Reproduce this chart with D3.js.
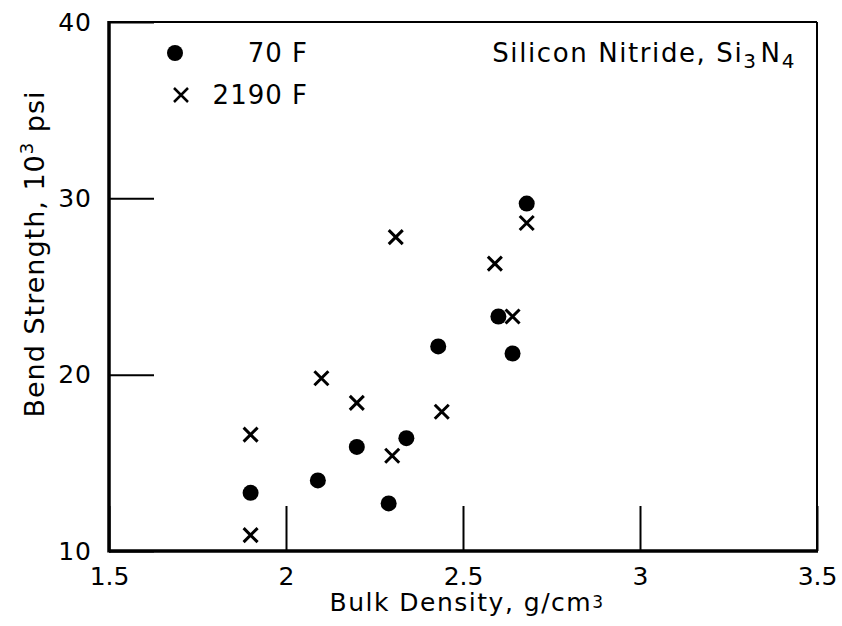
<!DOCTYPE html>
<html>
<head>
<meta charset="utf-8">
<script src="https://cdn.jsdelivr.net/npm/d3@7"></script>
<style>
  body { margin: 0; background: #fff; }
  text { font-family: "DejaVu Sans", Verdana, sans-serif; fill: #000; }
</style>
</head>
<body>
<svg id="chart" width="842" height="626"></svg>
<script>
// 70 F series (circles)
const density70 = [1.90, 2.09, 2.20, 2.29, 2.34, 2.43, 2.60, 2.64, 2.68];
const strength70 = [13.3, 14.0, 15.9, 12.7, 16.4, 21.6, 23.3, 21.2, 29.7];
// 2190 F series (crosses)
const density2190 = [1.90, 1.90, 2.10, 2.20, 2.30, 2.31, 2.44, 2.59, 2.64, 2.68];
const strength2190 = [16.6, 10.9, 19.8, 18.4, 15.4, 27.8, 17.9, 26.3, 23.3, 28.6];

const xTicks = [1.5, 2, 2.5, 3, 3.5];
const xTickLabels = ["1.5", "2", "2.5", "3", "3.5"];
const yTicks = [10, 20, 30, 40];
const yTickLabels = ["10", "20", "30", "40"];

const margin = {left: 109, right: 25, top: 22, bottom: 75};
const width = 842, height = 626;
const font = "DejaVu Sans, Verdana, sans-serif";

const svg = d3.select("#chart");

const x = d3.scaleLinear()
    .domain([1.5, 3.5])
    .range([margin.left, width - margin.right]);

const y = d3.scaleLinear()
    .domain([10, 40])
    .range([height - margin.bottom, margin.top]);

// inner ticks (drawn without domain line)
const xAxis = d3.axisBottom(x)
    .tickValues(xTicks)
    .tickFormat((d, i) => xTickLabels[i])
    .tickSizeInner(-45)
    .tickSizeOuter(0)
    .tickPadding(16);

const yAxis = d3.axisLeft(y)
    .tickValues(yTicks)
    .tickFormat((d, i) => yTickLabels[i])
    .tickSizeInner(-45)
    .tickSizeOuter(0)
    .tickPadding(17);

const gx = svg.append("g")
    .attr("transform", `translate(0,${y(10)})`)
    .call(xAxis);
gx.select(".domain").remove();
gx.selectAll(".tick line").attr("stroke", "#000").attr("stroke-width", 2);
gx.selectAll(".tick text")
    .attr("font-size", 25)
    .attr("font-family", font)
    .attr("dy", "0.71em");

const gy = svg.append("g")
    .attr("transform", `translate(${x(1.5)},0)`)
    .call(yAxis);
gy.select(".domain").remove();
gy.selectAll(".tick line").attr("stroke", "#000").attr("stroke-width", 2);
gy.selectAll(".tick text")
    .attr("font-size", 25)
    .attr("font-family", font)
    .attr("letter-spacing", 1);

// frame: heavier left/bottom
const frame = svg.append("g").attr("stroke", "#000").attr("fill", "none");
frame.append("line")
    .attr("x1", x(1.5)).attr("x2", x(3.5))
    .attr("y1", y(40)).attr("y2", y(40))
    .attr("stroke-width", 2);
frame.append("line")
    .attr("x1", x(3.5)).attr("x2", x(3.5))
    .attr("y1", y(40)).attr("y2", y(10))
    .attr("stroke-width", 2);
frame.append("line")
    .attr("x1", x(1.5)).attr("x2", x(1.5))
    .attr("y1", y(40) - 1).attr("y2", y(10) + 1.5)
    .attr("stroke-width", 3.5);
frame.append("line")
    .attr("x1", x(1.5)).attr("x2", x(3.5) + 1)
    .attr("y1", y(10)).attr("y2", y(10))
    .attr("stroke-width", 3.5);

// data: circles
svg.append("g")
  .selectAll("circle")
  .data(density70.map((d, i) => [d, strength70[i]]))
  .join("circle")
    .attr("cx", d => x(d[0]))
    .attr("cy", d => y(d[1]))
    .attr("r", 8)
    .attr("fill", "#000");

// data: crosses
const cross = 7;
function crossPath(cx, cy) {
  return `M${cx - cross},${cy - cross}L${cx + cross},${cy + cross}` +
         `M${cx - cross},${cy + cross}L${cx + cross},${cy - cross}`;
}
svg.append("g")
    .attr("stroke", "#000")
    .attr("stroke-width", 3)
    .attr("fill", "none")
  .selectAll("path")
  .data(density2190.map((d, i) => [d, strength2190[i]]))
  .join("path")
    .attr("d", d => crossPath(x(d[0]), y(d[1])));

// legend
const legend = svg.append("g");
legend.append("circle")
    .attr("cx", 175).attr("cy", 53).attr("r", 8).attr("fill", "#000");
legend.append("text")
    .attr("x", 308).attr("y", 62)
    .attr("text-anchor", "end")
    .attr("font-size", 26)
    .attr("letter-spacing", 1)
    .text("70 F");
legend.append("path")
    .attr("d", crossPath(181, 95))
    .attr("stroke", "#000").attr("stroke-width", 2.5);
legend.append("text")
    .attr("x", 308).attr("y", 104)
    .attr("text-anchor", "end")
    .attr("font-size", 26)
    .attr("letter-spacing", 1)
    .text("2190 F");

// title in plot
const title = svg.append("text")
    .attr("x", 796).attr("y", 62)
    .attr("text-anchor", "end")
    .attr("font-size", 26)
    .attr("letter-spacing", 1.6);
title.append("tspan").text("Silicon Nitride, Si");
title.append("tspan").attr("font-size", 20).attr("dy", 6).text("3");
title.append("tspan").attr("dy", -6).attr("dx", 3).text("N");
title.append("tspan").attr("font-size", 20).attr("dy", 6).text("4");

// axis labels
const xl = svg.append("text")
    .attr("x", 467).attr("y", 611)
    .attr("text-anchor", "middle")
    .attr("font-size", 25)
    .attr("letter-spacing", 1.5);
xl.append("tspan").text("Bulk Density, g/cm");
xl.append("tspan").attr("font-size", 17).attr("dy", -3).text("3");

const yl = svg.append("text")
    .attr("transform", "translate(44,254) rotate(-90)")
    .attr("text-anchor", "middle")
    .attr("font-size", 27)
    .attr("letter-spacing", 1);
yl.append("tspan").text("Bend Strength, 10");
yl.append("tspan").attr("font-size", 18).attr("dy", -11).text("3");
yl.append("tspan").attr("dy", 11).text(" psi");
</script>
</body>
</html>
